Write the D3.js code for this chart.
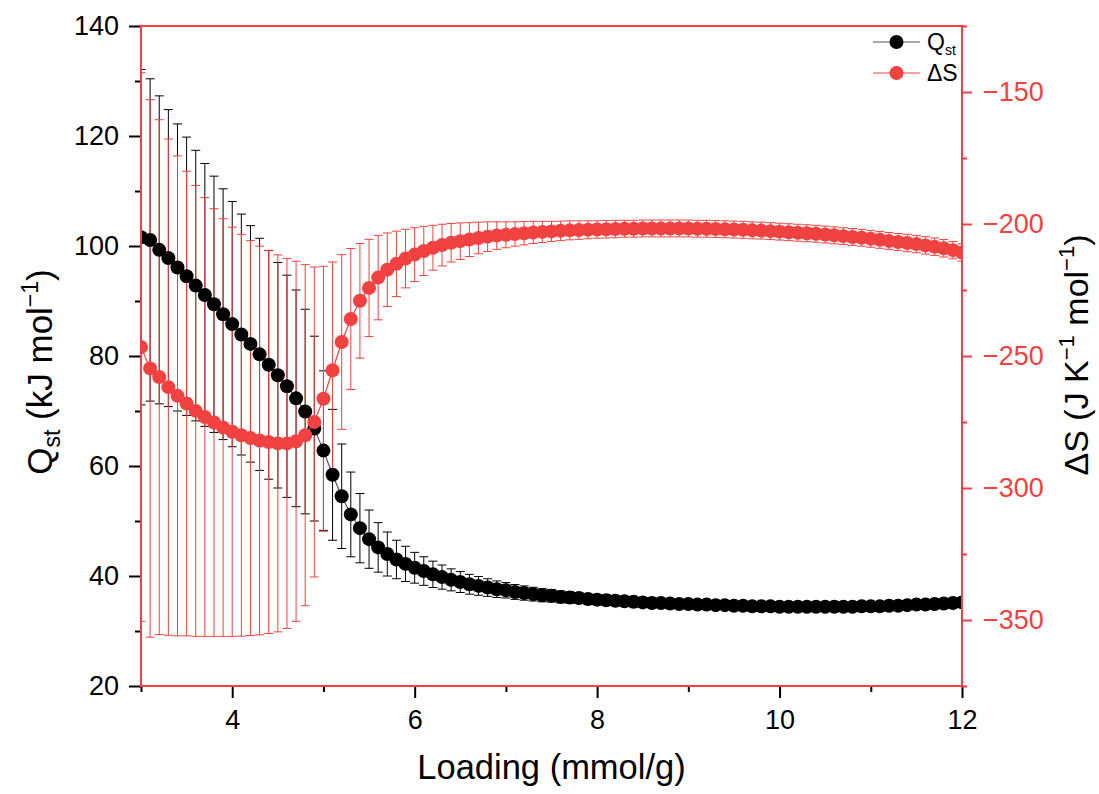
<!DOCTYPE html>
<html>
<head>
<meta charset="utf-8">
<script src="https://cdn.jsdelivr.net/npm/d3@7"></script>
<style>
  body { margin: 0; background: #fff; }
  svg text { font-family: "Liberation Sans", Arial, sans-serif; }
</style>
</head>
<body>
<div id="chart"></div>
<script>
// Loading (mmol/g)
var loading = [
  3.0, 3.1, 3.2, 3.3, 3.4, 3.5, 3.6, 3.7, 3.8, 3.9,
  4.0, 4.1, 4.2, 4.3, 4.4, 4.5, 4.6, 4.7, 4.8, 4.9,
  5.0, 5.1, 5.2, 5.3, 5.4, 5.5, 5.6, 5.7, 5.8, 5.9,
  6.0, 6.1, 6.2, 6.3, 6.4, 6.5, 6.6, 6.7, 6.8, 6.9,
  7.0, 7.1, 7.2, 7.3, 7.4, 7.5, 7.6, 7.7, 7.8, 7.9,
  8.0, 8.1, 8.2, 8.3, 8.4, 8.5, 8.6, 8.7, 8.8, 8.9,
  9.0, 9.1, 9.2, 9.3, 9.4, 9.5, 9.6, 9.7, 9.8, 9.9,
  10.0, 10.1, 10.2, 10.3, 10.4, 10.5, 10.6, 10.7, 10.8, 10.9,
  11.0, 11.1, 11.2, 11.3, 11.4, 11.5, 11.6, 11.7, 11.8, 11.9,
  12.0
];

// Qst (kJ/mol) and its error
var qst = [
  101.6, 101.1, 99.3, 97.8, 96.1, 94.5, 92.8, 91.1, 89.4, 87.6,
  85.8, 83.9, 82.2, 80.3, 78.4, 76.5, 74.5, 72.3, 69.9, 66.8,
  62.8, 58.4, 54.5, 51.2, 48.7, 46.7, 45.2, 44.0, 43.0, 42.2,
  41.5, 40.9, 40.3, 39.8, 39.3, 38.9, 38.5, 38.2, 37.9, 37.6,
  37.4, 37.1, 36.9, 36.7, 36.5, 36.4, 36.2, 36.1, 36.0, 35.8,
  35.7, 35.6, 35.5, 35.4, 35.3, 35.2, 35.1, 35.1, 35.0, 34.9,
  34.9, 34.8, 34.8, 34.7, 34.7, 34.6, 34.6, 34.5, 34.5, 34.5,
  34.4, 34.4, 34.4, 34.4, 34.4, 34.4, 34.4, 34.4, 34.4, 34.5,
  34.5, 34.5, 34.6, 34.6, 34.7, 34.8, 34.8, 34.9, 35.0, 35.1,
  35.2
];
var qstErr = [
  30.5, 29.3, 28.0, 27.0, 26.1, 25.3, 24.6, 23.9, 23.3, 22.8,
  22.3, 21.9, 21.5, 21.1, 20.8, 20.5, 20.2, 19.7, 18.6, 16.8,
  14.5, 11.9, 9.5, 7.7, 6.3, 5.3, 4.5, 4.0, 3.5, 3.2,
  2.8, 2.6, 2.4, 2.2, 2.0, 1.9, 1.8, 1.7, 1.6, 1.5,
  1.4, 1.35, 1.3, 1.25, 1.2, 1.15, 1.1, 1.05, 1.0, 1.0,
  0.95, 0.95, 0.9, 0.9, 0.9, 0.85, 0.85, 0.85, 0.8, 0.8,
  0.8, 0.8, 0.8, 0.75, 0.75, 0.75, 0.75, 0.75, 0.75, 0.75,
  0.75, 0.75, 0.75, 0.75, 0.75, 0.75, 0.75, 0.75, 0.75, 0.75,
  0.75, 0.75, 0.75, 0.8, 0.8, 0.8, 0.8, 0.85, 0.85, 0.85,
  0.9
];

// Delta S (J/K/mol) and its error
var dS = [
  -246.6, -254.7, -258.0, -261.8, -265.1, -268.0, -270.8, -273.1, -275.2, -277.1,
  -278.7, -280.0, -281.1, -282.0, -282.6, -283.1, -283.1, -282.3, -280.0, -275.0,
  -266.2, -255.4, -244.7, -236.0, -229.1, -224.2, -220.3, -217.3, -215.1, -213.1,
  -211.6, -210.2, -209.0, -208.0, -207.1, -206.5, -205.9, -205.3, -204.8, -204.4,
  -204.1, -203.8, -203.5, -203.2, -203.0, -202.8, -202.6, -202.4, -202.3, -202.2,
  -202.1, -202.0, -201.9, -201.8, -201.8, -201.7, -201.7, -201.7, -201.7, -201.7,
  -201.7, -201.8, -201.8, -201.9, -202.0, -202.1, -202.2, -202.4, -202.5, -202.7,
  -202.9, -203.1, -203.3, -203.5, -203.7, -204.0, -204.3, -204.6, -204.9, -205.2,
  -205.6, -206.0, -206.4, -206.8, -207.2, -207.6, -208.1, -208.6, -209.2, -209.9,
  -210.8
];
var dSErr = [
  103.9, 101.8, 97.5, 94.0, 90.9, 88.0, 85.4, 83.1, 81.0, 79.1,
  77.5, 76.1, 74.8, 73.6, 72.5, 71.4, 70.1, 68.2, 64.6, 58.7,
  50.2, 41.0, 33.1, 26.7, 21.7, 18.4, 16.0, 13.9, 12.4, 11.1,
  10.2, 9.3, 8.5, 7.9, 7.3, 6.9, 6.4, 6.0, 5.6, 5.2,
  4.9, 4.6, 4.4, 4.2, 4.0, 3.8, 3.7, 3.6, 3.5, 3.4,
  3.3, 3.3, 3.3, 3.2, 3.2, 3.2, 3.2, 3.2, 3.2, 3.2,
  3.2, 3.2, 3.2, 3.2, 3.2, 3.2, 3.2, 3.2, 3.2, 3.2,
  3.2, 3.2, 3.2, 3.2, 3.2, 3.2, 3.2, 3.2, 3.2, 3.2,
  3.2, 3.2, 3.2, 3.2, 3.3, 3.3, 3.3, 3.3, 3.3, 3.3,
  3.3
];

// Axis ticks
var xMajor = [4, 6, 8, 10, 12];
var xMinor = [3, 5, 7, 9, 11];
var yLeftMajor = [20, 40, 60, 80, 100, 120, 140];
var yLeftMinor = [30, 50, 70, 90, 110, 130];
var yRightMajor = [-150, -200, -250, -300, -350];
var yRightMinor = [-125, -175, -225, -275, -325, -375];

var red = "#f14141";

var w = 1099;
var h = 794;
var margin = { left: 141, right: 137, top: 26, bottom: 108 };
var plotW = w - margin.left - margin.right;
var plotH = h - margin.top - margin.bottom;

var svg = d3
  .select("#chart")
  .append("svg")
  .attr("width", w)
  .attr("height", h);

var xScale = d3.scaleLinear().domain([3, 12]).range([margin.left, margin.left + plotW]);
var yLeft = d3.scaleLinear().domain([20, 140]).range([margin.top + plotH, margin.top]);
var yRight = d3.scaleLinear().domain([-375, -125]).range([margin.top + plotH, margin.top]);

// build row objects for each series
var qstData = loading.map(function (x, i) {
  return { x: x, y: qst[i], e: qstErr[i] };
});
var dSData = loading.map(function (x, i) {
  return { x: x, y: dS[i], e: dSErr[i] };
});

svg
  .append("clipPath")
  .attr("id", "clip")
  .append("rect")
  .attr("x", margin.left)
  .attr("y", margin.top)
  .attr("width", plotW)
  .attr("height", plotH);

var plot = svg.append("g").attr("clip-path", "url(#clip)");

function errorBars(g, data, yScale, color) {
  var cap = 4.5;
  g.append("g")
    .attr("stroke", color)
    .attr("stroke-width", 1)
    .attr("fill", "none")
    .selectAll("path")
    .data(data)
    .enter()
    .append("path")
    .attr("d", function (d) {
      var x = xScale(d.x);
      var top = yScale(d.y + d.e);
      var bot = yScale(d.y - d.e);
      return (
        "M" + x + "," + top + "V" + bot +
        "M" + (x - cap) + "," + top + "H" + (x + cap) +
        "M" + (x - cap) + "," + bot + "H" + (x + cap)
      );
    });
}

function series(g, data, yScale, lineColor, dotColor) {
  var line = d3
    .line()
    .x(function (d) {
      return xScale(d.x);
    })
    .y(function (d) {
      return yScale(d.y);
    });

  g.append("path")
    .datum(data)
    .attr("d", line)
    .attr("fill", "none")
    .attr("stroke", lineColor)
    .attr("stroke-width", 1.2);

  g.append("g")
    .selectAll("circle")
    .data(data)
    .enter()
    .append("circle")
    .attr("cx", function (d) {
      return xScale(d.x);
    })
    .attr("cy", function (d) {
      return yScale(d.y);
    })
    .attr("r", 7)
    .attr("fill", dotColor);
}

errorBars(plot, qstData, yLeft, "#000");
errorBars(plot, dSData, yRight, red);
series(plot, qstData, yLeft, "#555", "#000");
series(plot, dSData, yRight, red, red);

// Axes
var fontSize = "27px";

function styleAxis(g, color) {
  g.select(".domain").remove();
  g.selectAll(".tick line").attr("stroke", color).attr("stroke-width", 2);
  g.selectAll(".tick text")
    .attr("fill", color)
    .style("font-size", fontSize);
}

var bottomY = margin.top + plotH;
var rightX = margin.left + plotW;

svg
  .append("g")
  .attr("transform", "translate(0," + bottomY + ")")
  .call(d3.axisBottom(xScale).tickValues(xMajor).tickSize(12).tickPadding(12).tickFormat(d3.format("d")))
  .call(styleAxis, "#000");

svg
  .append("g")
  .attr("transform", "translate(0," + bottomY + ")")
  .call(d3.axisBottom(xScale).tickValues(xMinor).tickSize(6).tickFormat(""))
  .call(styleAxis, "#000");

svg
  .append("g")
  .attr("transform", "translate(" + margin.left + ",0)")
  .call(d3.axisLeft(yLeft).tickValues(yLeftMajor).tickSize(12).tickPadding(10).tickFormat(d3.format("d")))
  .call(styleAxis, "#000");

svg
  .append("g")
  .attr("transform", "translate(" + margin.left + ",0)")
  .call(d3.axisLeft(yLeft).tickValues(yLeftMinor).tickSize(6).tickFormat(""))
  .call(styleAxis, "#000");

svg
  .append("g")
  .attr("transform", "translate(" + rightX + ",0)")
  .call(d3.axisRight(yRight).tickValues(yRightMajor).tickSize(10).tickPadding(11).tickFormat(d3.format("d")))
  .call(styleAxis, red);

svg
  .append("g")
  .attr("transform", "translate(" + rightX + ",0)")
  .call(d3.axisRight(yRight).tickValues(yRightMinor).tickSize(5).tickFormat(""))
  .call(styleAxis, red);

// Frame
svg
  .append("rect")
  .attr("x", margin.left)
  .attr("y", margin.top)
  .attr("width", plotW)
  .attr("height", plotH)
  .attr("fill", "none")
  .attr("stroke", red)
  .attr("stroke-width", 2);

// Axis titles
svg
  .append("text")
  .attr("x", margin.left + plotW / 2)
  .attr("y", 779)
  .attr("text-anchor", "middle")
  .style("font-size", "34.5px")
  .text("Loading (mmol/g)");

var leftTitle = svg
  .append("text")
  .attr("transform", "translate(52,372) rotate(-90)")
  .attr("text-anchor", "middle")
  .style("font-size", "35px");
leftTitle.append("tspan").text("Q");
leftTitle.append("tspan").attr("dy", 8).style("font-size", "23px").text("st");
leftTitle.append("tspan").attr("dy", -8).text(" (kJ mol");
leftTitle.append("tspan").attr("dy", -14).style("font-size", "23px").text("\u22121");
leftTitle.append("tspan").attr("dy", 14).text(")");

var rightTitle = svg
  .append("text")
  .attr("transform", "translate(1088,355) rotate(-90)")
  .attr("text-anchor", "middle")
  .style("font-size", "34px");
rightTitle.append("tspan").text("\u0394S (J K");
rightTitle.append("tspan").attr("dy", -14).style("font-size", "22px").text("\u22121");
rightTitle.append("tspan").attr("dy", 14).text(" mol");
rightTitle.append("tspan").attr("dy", -14).style("font-size", "22px").text("\u22121");
rightTitle.append("tspan").attr("dy", 14).text(")");

// Legend
var legendItems = [
  { name: "Q", sub: "st", line: "#555", dot: "#000" },
  { name: "\u0394S", sub: "", line: red, dot: red }
];

var legend = svg
  .selectAll(".legend")
  .data(legendItems)
  .enter()
  .append("g")
  .attr("class", "legend")
  .attr("transform", function (d, i) {
    return "translate(873," + (42 + i * 31) + ")";
  });

legend
  .append("line")
  .attr("x1", 0)
  .attr("x2", 47)
  .attr("stroke", function (d) {
    return d.line;
  })
  .attr("stroke-width", 1.2);

legend
  .append("circle")
  .attr("cx", 23.5)
  .attr("r", 7)
  .attr("fill", function (d) {
    return d.dot;
  });

var legendText = legend
  .append("text")
  .attr("x", 54)
  .attr("y", 8)
  .style("font-size", "23px");
legendText.append("tspan").text(function (d) {
  return d.name;
});
legendText
  .append("tspan")
  .attr("dy", 5)
  .style("font-size", "14px")
  .text(function (d) {
    return d.sub;
  });
</script>
</body>
</html>
